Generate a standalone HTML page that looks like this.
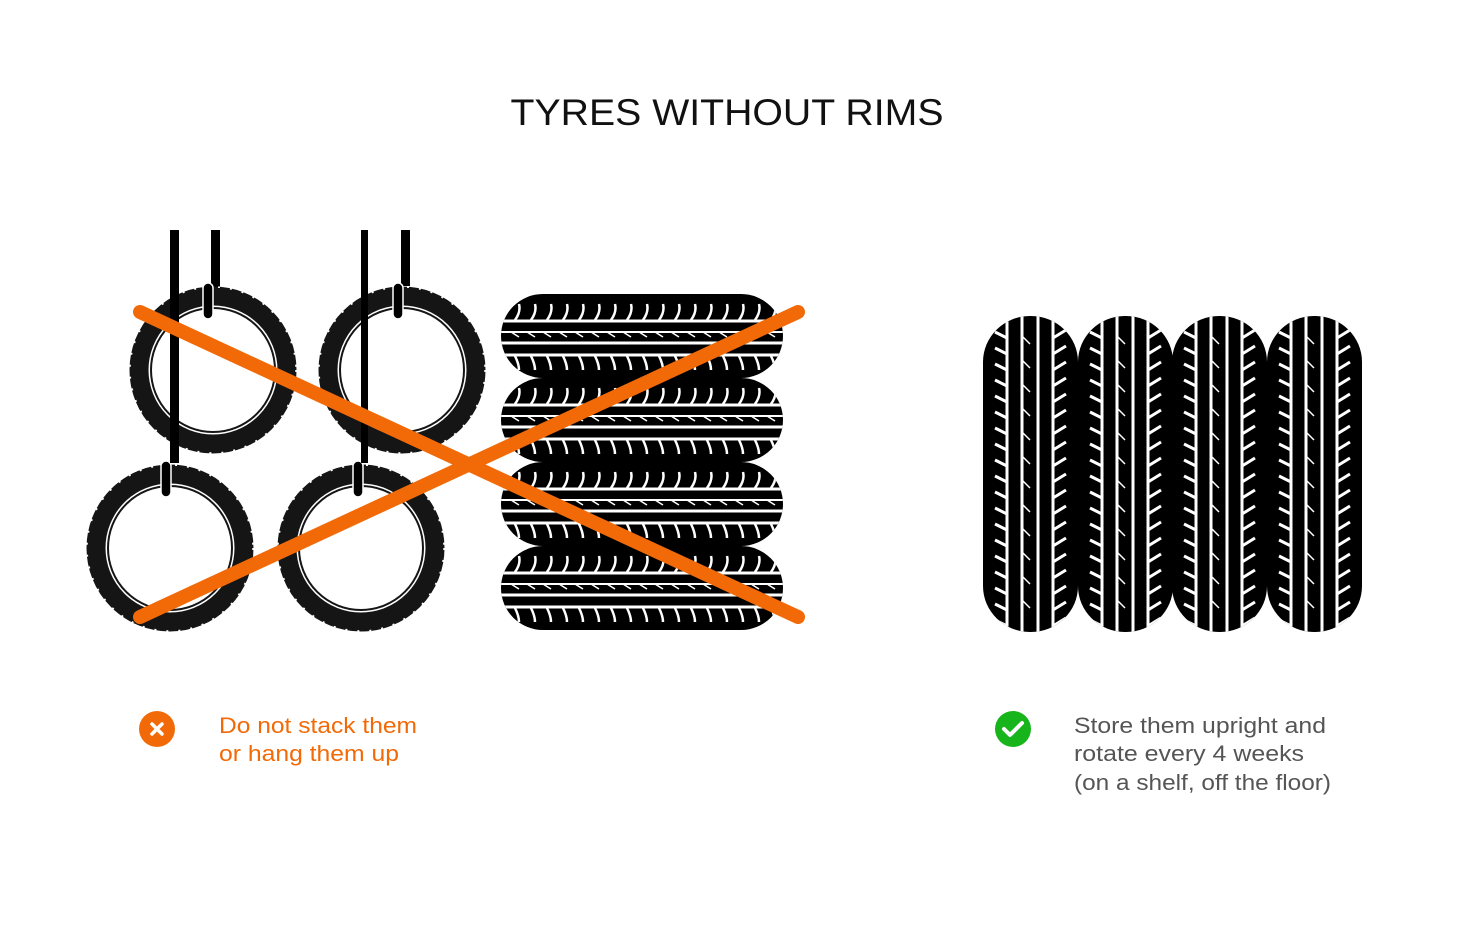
<!DOCTYPE html>
<html><head><meta charset="utf-8"><style>html,body{margin:0;padding:0;background:#fff}svg{display:block}</style></head>
<body>
<svg width="1462" height="944" viewBox="0 0 1462 944" xmlns="http://www.w3.org/2000/svg" font-family="Liberation Sans, sans-serif">
<defs>
  <clipPath id="hc"><rect x="0" y="0" width="282" height="84" rx="42" ry="42"/></clipPath>
  <g id="ht">
    <rect x="0" y="0" width="282" height="84" rx="42" ry="42" fill="#000"/>
    <g clip-path="url(#hc)" stroke="#fff" fill="none">
      <line x1="0" y1="27" x2="282" y2="27" stroke-width="3"/>
      <line x1="0" y1="38" x2="282" y2="38" stroke-width="2"/>
      <line x1="0" y1="49" x2="282" y2="49" stroke-width="3"/>
      <line x1="0" y1="61" x2="282" y2="61" stroke-width="3"/>
      <path stroke-width="2.5" d="M18 10 q2 8 -4 16 M34 10 q2 8 -4 16 M50 10 q2 8 -4 16 M66 10 q2 8 -4 16 M82 10 q2 8 -4 16 M98 10 q2 8 -4 16 M114 10 q2 8 -4 16 M130 10 q2 8 -4 16 M146 10 q2 8 -4 16 M162 10 q2 8 -4 16 M178 10 q2 8 -4 16 M194 10 q2 8 -4 16 M210 10 q2 8 -4 16 M226 10 q2 8 -4 16 M242 10 q2 8 -4 16 M258 10 q2 8 -4 16 M274 10 q2 8 -4 16"/>
      <path stroke-width="2.5" d="M14 62 q4 8 4 14 M30 62 q4 8 4 14 M46 62 q4 8 4 14 M62 62 q4 8 4 14 M78 62 q4 8 4 14 M94 62 q4 8 4 14 M110 62 q4 8 4 14 M126 62 q4 8 4 14 M142 62 q4 8 4 14 M158 62 q4 8 4 14 M174 62 q4 8 4 14 M190 62 q4 8 4 14 M206 62 q4 8 4 14 M222 62 q4 8 4 14 M238 62 q4 8 4 14 M254 62 q4 8 4 14 M270 62 q4 8 4 14"/>
      <path stroke-width="1.5" d="M10 38 l8 5 M26 38 l8 5 M42 38 l8 5 M58 38 l8 5 M74 38 l8 5 M90 38 l8 5 M106 38 l8 5 M122 38 l8 5 M138 38 l8 5 M154 38 l8 5 M170 38 l8 5 M186 38 l8 5 M202 38 l8 5 M218 38 l8 5 M234 38 l8 5 M250 38 l8 5 M266 38 l8 5"/>
    </g>
  </g>
  <clipPath id="vc"><rect x="0" y="0" width="95" height="316" rx="47" ry="46"/></clipPath>
  <g id="vt">
    <rect x="0" y="0" width="95" height="316" rx="47" ry="46" fill="#000"/>
    <g clip-path="url(#vc)" stroke="#fff" fill="none">
      <line x1="24" y1="0" x2="24" y2="316" stroke-width="3"/>
      <line x1="39" y1="0" x2="39" y2="316" stroke-width="3"/>
      <line x1="55" y1="0" x2="55" y2="316" stroke-width="3"/>
      <line x1="70" y1="0" x2="70" y2="316" stroke-width="3"/>
      <g stroke-width="3">
        <path d="M12 16 l12 6 M12 32 l12 6 M12 48 l12 6 M12 64 l12 6 M12 80 l12 6 M12 96 l12 6 M12 112 l12 6 M12 128 l12 6 M12 144 l12 6 M12 160 l12 6 M12 176 l12 6 M12 192 l12 6 M12 208 l12 6 M12 224 l12 6 M12 240 l12 6 M12 256 l12 6 M12 272 l12 6 M12 288 l12 6 M12 304 l12 6"/>
        <path d="M83 14 l-13 8 M83 30 l-13 8 M83 46 l-13 8 M83 62 l-13 8 M83 78 l-13 8 M83 94 l-13 8 M83 110 l-13 8 M83 126 l-13 8 M83 142 l-13 8 M83 158 l-13 8 M83 174 l-13 8 M83 190 l-13 8 M83 206 l-13 8 M83 222 l-13 8 M83 238 l-13 8 M83 254 l-13 8 M83 270 l-13 8 M83 286 l-13 8 M83 302 l-13 8"/>
        <path stroke-width="1.5" d="M39 20 l8 8 M39 44 l8 8 M39 68 l8 8 M39 92 l8 8 M39 116 l8 8 M39 140 l8 8 M39 164 l8 8 M39 188 l8 8 M39 212 l8 8 M39 236 l8 8 M39 260 l8 8 M39 284 l8 8"/>
      </g>
    </g>
  </g>
  <g id="ring">
    <circle r="74" fill="none" stroke="#151515" stroke-width="19"/>
    <circle r="83" fill="none" stroke="#fff" stroke-width="1.5" stroke-dasharray="2 10"/>
    <circle r="62" fill="none" stroke="#151515" stroke-width="2"/>
  </g>
</defs>

<text x="727" y="125" text-anchor="middle" font-size="37" fill="#111" textLength="433" lengthAdjust="spacingAndGlyphs">TYRES WITHOUT RIMS</text>

<g fill="#000">
  <rect x="170" y="230" width="9" height="233"/>
  <rect x="211" y="230" width="9" height="60"/>
  <rect x="361" y="230" width="7" height="233"/>
  <rect x="401" y="230" width="9" height="56"/>
</g>
<use href="#ring" x="213" y="370"/>
<use href="#ring" x="402" y="370"/>
<use href="#ring" x="170" y="548"/>
<use href="#ring" x="361" y="548"/>
<g fill="#000" stroke="#fff" stroke-width="1.5">
  <rect x="203" y="283" width="10" height="36" rx="5"/>
  <rect x="393" y="283" width="10" height="36" rx="5"/>
  <rect x="161" y="461" width="10" height="36" rx="5"/>
  <rect x="353" y="461" width="10" height="36" rx="5"/>
</g>
<rect x="170" y="230" width="9" height="233" fill="#000"/>
<rect x="361" y="230" width="7" height="233" fill="#000"/>

<use href="#ht" x="501" y="294"/>
<use href="#ht" x="501" y="378"/>
<use href="#ht" x="501" y="462"/>
<use href="#ht" x="501" y="546"/>

<g stroke="#f26a07" stroke-width="14" stroke-linecap="round">
  <line x1="140" y1="312" x2="798" y2="617"/>
  <line x1="140" y1="617" x2="798" y2="312"/>
</g>

<use href="#vt" x="983" y="316"/>
<use href="#vt" x="1078" y="316"/>
<use href="#vt" x="1172" y="316"/>
<use href="#vt" x="1267" y="316"/>

<circle cx="157" cy="729" r="18" fill="#f26a07"/>
<path d="M152 724 l10 10 M162 724 l-10 10" stroke="#fff" stroke-width="3.5" stroke-linecap="round"/>
<text font-size="22" fill="#f26a07"><tspan x="219" y="733" textLength="198" lengthAdjust="spacingAndGlyphs">Do not stack them</tspan></text>
<text font-size="22" fill="#f26a07"><tspan x="219" y="761" textLength="180" lengthAdjust="spacingAndGlyphs">or hang them up</tspan></text>

<circle cx="1013" cy="729" r="18" fill="#17b41c"/>
<path d="M1004 729 l6 6 l12 -12" fill="none" stroke="#fff" stroke-width="4" stroke-linecap="round" stroke-linejoin="round"/>
<text font-size="22" fill="#555" x="1074" y="733" textLength="252" lengthAdjust="spacingAndGlyphs">Store them upright and</text>
<text font-size="22" fill="#555" x="1074" y="761" textLength="230" lengthAdjust="spacingAndGlyphs">rotate every 4 weeks</text>
<text font-size="22" fill="#555" x="1074" y="790" textLength="257" lengthAdjust="spacingAndGlyphs">(on a shelf, off the floor)</text>
</svg>
</body></html>
